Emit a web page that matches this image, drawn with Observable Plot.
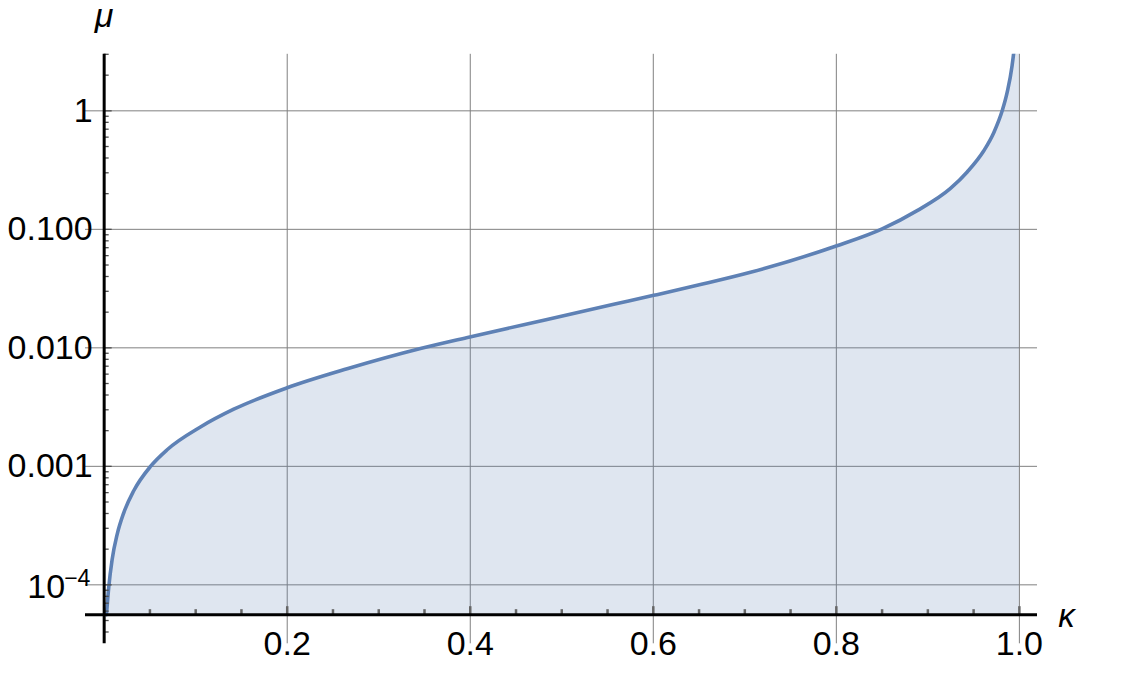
<!DOCTYPE html>
<html>
<head>
<meta charset="utf-8">
<script src="https://cdn.jsdelivr.net/npm/d3@7"></script>
<script src="https://cdn.jsdelivr.net/npm/@observablehq/plot@0.6"></script>
<style>
  html, body { margin: 0; padding: 0; background: #fff; overflow: hidden; }
  #chart svg { display: block; }
</style>
</head>
<body>
<div id="chart"></div>
<script>
// ---- data ----
const kappa = [0.0025, 0.005, 0.0087, 0.0142, 0.0214, 0.0323, 0.0506, 0.0688, 0.1052, 0.1416,
  0.2, 0.2655, 0.3456, 0.3995, 0.484, 0.5568, 0.6005, 0.6515, 0.7062, 0.7998, 0.8501,
  0.8883, 0.9247, 0.943, 0.9611, 0.972, 0.9812, 0.9867, 0.9921, 0.9943, 0.997, 0.999, 1.0];
const mu = [5.6e-5, 9.55e-5, 1.637e-4, 2.667e-4, 4.055e-4, 6.22e-4, 9.98e-4, 1.38e-3, 2.148e-3, 3.034e-3,
  4.603e-3, 6.653e-3, 9.863e-3, 0.01236, 0.01738, 0.02328, 0.02773, 0.0342, 0.04345, 0.0723, 0.1009,
  0.1439, 0.2215, 0.305, 0.46, 0.654, 1.0, 1.436, 2.43, 3.37, 6.4, 19.2, 100];

const xMajorTicks = [0.2, 0.4, 0.6, 0.8, 1.0];
const xTickLabels = ["0.2", "0.4", "0.6", "0.8", "1.0"];
const xMinorTicks = [0.05, 0.1, 0.15, 0.25, 0.3, 0.35, 0.45, 0.5, 0.55, 0.65, 0.7, 0.75, 0.85, 0.9, 0.95];

const yMajorTicks = [1, 0.1, 0.01, 0.001, 1e-4];
const yTickLabels = ["1", "0.100", "0.010", "0.001", "10"];
const yTickExponents = ["", "", "", "", "\u22124"];
const yMinorTicks = [4e-5, 5e-5, 6e-5, 7e-5, 8e-5, 9e-5,
  2e-4, 3e-4, 4e-4, 5e-4, 6e-4, 7e-4, 8e-4, 9e-4,
  0.002, 0.003, 0.004, 0.005, 0.006, 0.007, 0.008, 0.009,
  0.02, 0.03, 0.04, 0.05, 0.06, 0.07, 0.08, 0.09,
  0.2, 0.3, 0.4, 0.5, 0.6, 0.7, 0.8, 0.9, 2, 3];

const xLabel = "κ";
const yLabel = "μ";

// ---- plot settings ----
const xDomain = [-0.0204, 1.0198];
const yDomain = [3.18e-5, 3.0];
const axisY0 = 5.6e-5; // where the horizontal axis crosses
const lineColor = "#5e81b5";
const gridColor = "#808080";
const font = "Liberation Sans, Arial, Helvetica, sans-serif";

const data = kappa.map((k, i) => ({k, mu: mu[i]}));

const chart = Plot.plot({
  width: 1140,
  height: 690,
  marginLeft: 85,
  marginRight: 103,
  marginTop: 53.8,
  marginBottom: 46.7,
  style: {fontFamily: font, background: "white", color: "black"},
  x: {type: "linear", domain: xDomain, axis: null},
  y: {type: "log", domain: yDomain, axis: null},
  marks: [
    // grid
    Plot.ruleX(xMajorTicks, {x: d => d, stroke: gridColor, strokeWidth: 1}),
    Plot.ruleY(yMajorTicks, {y: d => d, stroke: gridColor, strokeWidth: 1}),
    // filled area to the axis
    Plot.areaY(data, {x: "k", y1: axisY0, y2: "mu", fill: lineColor, fillOpacity: 0.2, curve: "monotone-x", clip: true}),
    // curve
    Plot.line(data, {x: "k", y: "mu", stroke: lineColor, strokeWidth: 3.6, curve: "monotone-x", clip: true}),
    // x ticks (upward from axis)
    Plot.ruleX(xMinorTicks, {x: d => d, y1: axisY0, y2: axisY0, insetTop: -5, stroke: "#666", strokeWidth: 2.5}),
    Plot.ruleX(xMajorTicks, {x: d => d, y1: axisY0, y2: axisY0, insetTop: -8, stroke: "#666", strokeWidth: 2.5}),
    // y ticks (rightward from axis)
    Plot.ruleY(yMinorTicks, {y: d => d, x1: 0, x2: 0, insetRight: -5, stroke: "#4d4d4d", strokeWidth: 1.3}),
    Plot.ruleY(yMajorTicks, {y: d => d, x1: 0, x2: 0, insetRight: -8, stroke: "#4d4d4d", strokeWidth: 1.3}),
    // axes
    Plot.ruleY([axisY0], {stroke: "black", strokeWidth: 3}),
    Plot.ruleX([0], {stroke: "black", strokeWidth: 3}),
    // x tick labels
    Plot.text(xMajorTicks, {x: d => d, y: axisY0, text: (d, i) => xTickLabels[i], dy: 40, lineAnchor: "bottom", textAnchor: "middle", fontSize: 34, fill: "black"}),
    // y tick labels (plain)
    Plot.text(yMajorTicks.slice(0, 4), {x: 0, y: d => d, text: (d, i) => yTickLabels[i], dx: -11.5, textAnchor: "end", lineAnchor: "middle", fontSize: 34, fill: "black"}),
    // y tick label with exponent
    Plot.text(yMajorTicks.slice(4), {x: 0, y: d => d, text: (d, i) => yTickLabels[4 + i], dx: -39, dy: 13.5, textAnchor: "end", lineAnchor: "bottom", fontSize: 34, fill: "black"}),
    Plot.text(yMajorTicks.slice(4), {x: 0, y: d => d, text: (d, i) => yTickExponents[4 + i], dx: -40, dy: 0.7, textAnchor: "start", lineAnchor: "bottom", fontSize: 23, fill: "black"}),
    // axis labels
    Plot.text([yLabel], {x: 0, y: yDomain[1], text: d => d, dy: -27, lineAnchor: "bottom", textAnchor: "middle", fontSize: 34, fontStyle: "italic", fill: "black"}),
    Plot.text([xLabel], {x: xDomain[1], y: axisY0, text: d => d, dx: 29, dy: 12.8, lineAnchor: "bottom", textAnchor: "middle", fontSize: 33, fontStyle: "italic", fill: "black"})
  ]
});

document.getElementById("chart").appendChild(chart);
</script>
</body>
</html>
